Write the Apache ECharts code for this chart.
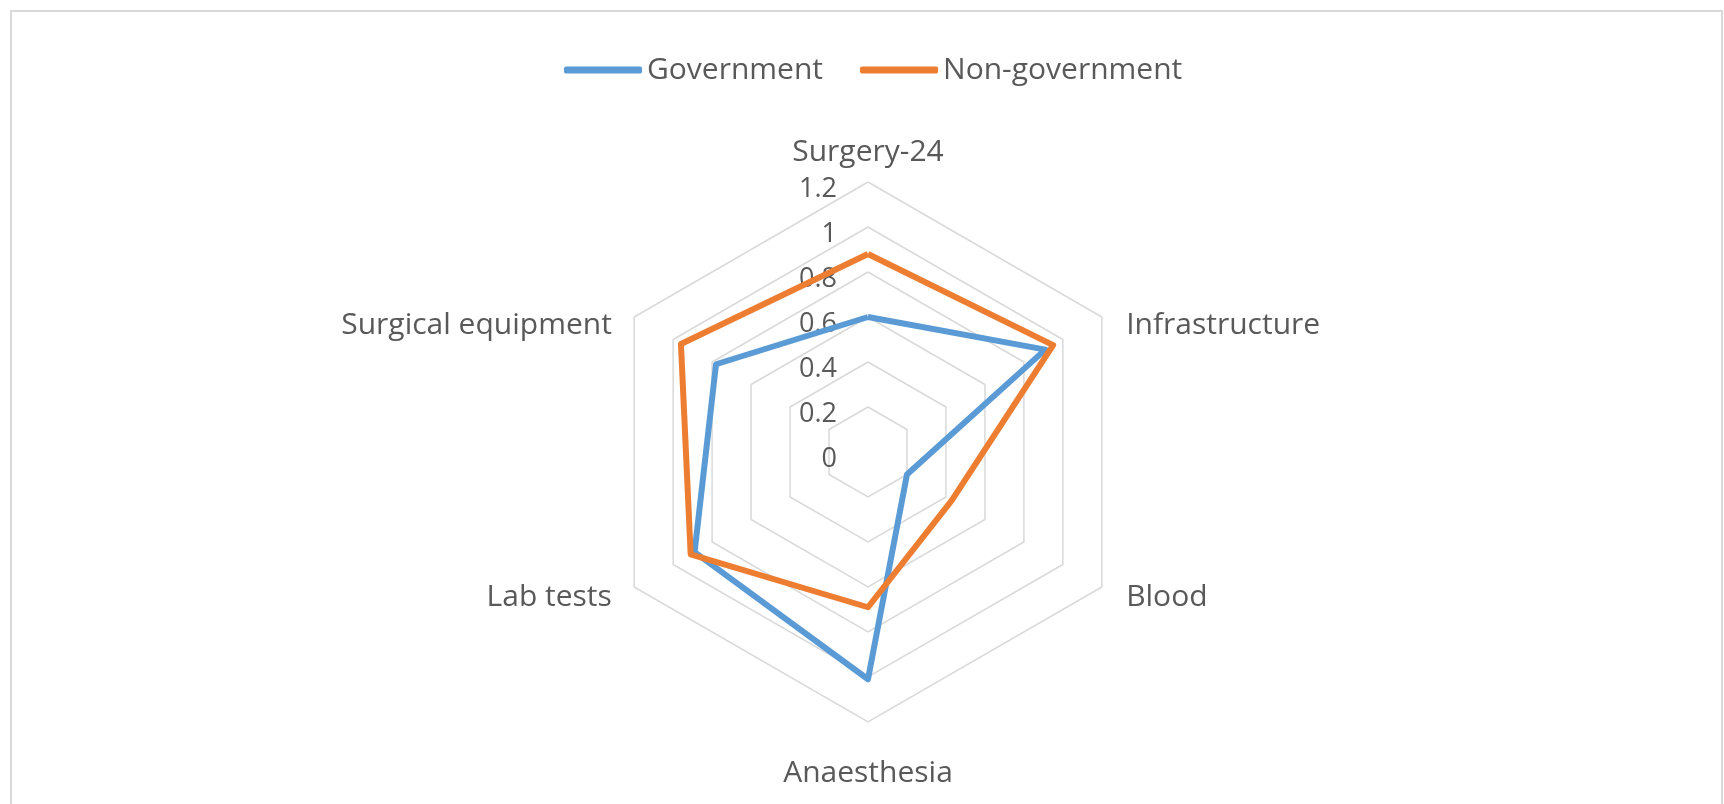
<!DOCTYPE html>
<html>
<head>
<meta charset="utf-8">
<title>Radar</title>
<script src="https://cdn.jsdelivr.net/npm/echarts@6/dist/echarts.min.js"></script>
<style>
  html, body { margin: 0; padding: 0; background: #fff; }
  #main { width: 1724px; height: 804px; }
</style>
</head>
<body>
<div id="main"></div>
<script>
// categories clockwise from the top, as in the original chart
const categories = ['Surgery-24', 'Infrastructure', 'Blood', 'Anaesthesia', 'Lab tests', 'Surgical equipment'];
const government = [0.60, 0.91, 0.20, 1.01, 0.89, 0.78];
const nonGovernment = [0.88, 0.95, 0.43, 0.69, 0.91, 0.96];
const seriesNames = ['Government', 'Non-government'];
const axisMax = 1.2;
const axisSplits = 6;

// echarts lays indicators out counter-clockwise, so flip the tail
const ccw = arr => [arr[0]].concat(arr.slice(1).reverse());

// which rich style each category name gets (label placement tweaks)
const nameStyle = {
  'Surgery-24': 'top',
  'Infrastructure': 'upR',
  'Blood': 'lowR',
  'Anaesthesia': 'bottom',
  'Lab tests': 'lowL',
  'Surgical equipment': 'upL'
};

const chart = echarts.init(document.getElementById('main'));
const textColor = '#595959';
const font = '"Open Sans", sans-serif';
const fs = 30;

const indicators = ccw(categories).map((name, i) => {
  const ind = { name: name, min: 0, max: axisMax };
  // only the first (top) axis carries the tick labels
  if (i === 0) {
    ind.axisLabel = { show: true };
  }
  return ind;
});

const option = {
  animation: false,
  color: ['#5B9BD5', '#ED7D31'],
  graphic: [{
    type: 'rect',
    shape: { x: 11, y: 11, width: 1711, height: 820 },
    style: { fill: 'none', stroke: '#d9d9d9', lineWidth: 2 },
    silent: true
  }],
  legend: {
    left: 559,
    top: 50,
    icon: 'roundRect',
    itemWidth: 78,
    itemHeight: 7,
    itemGap: 37,
    textStyle: { color: textColor, fontSize: fs, fontFamily: font },
    data: seriesNames
  },
  radar: {
    center: [868, 452],
    radius: 270,
    startAngle: 90,
    splitNumber: axisSplits,
    shape: 'polygon',
    nameGap: 20,
    axisName: {
      color: textColor,
      fontSize: fs,
      fontFamily: font,
      formatter: name => '{' + nameStyle[name] + '|' + name + '}',
      rich: {
        top: { fontSize: fs, fontFamily: font, color: textColor, lineHeight: 19 },
        upR: { fontSize: fs, fontFamily: font, color: textColor, padding: [36, 0, 0, 7] },
        lowR: { fontSize: fs, fontFamily: font, color: textColor, padding: [0, 0, 0, 7] },
        bottom: { fontSize: fs, fontFamily: font, color: textColor, padding: [16, 0, 0, 0] },
        lowL: { fontSize: fs, fontFamily: font, color: textColor, padding: [0, 5, 0, 0] },
        upL: { fontSize: fs, fontFamily: font, color: textColor, padding: [36, 5, 0, 0] }
      }
    },
    axisLine: { show: false },
    axisTick: { show: false },
    axisLabel: {
      show: false,
      color: textColor,
      fontSize: 27,
      fontFamily: font,
      margin: 31,
      verticalAlign: 'top',
      lineHeight: 14,
      formatter: v => String(Math.round(v * 10) / 10)
    },
    splitLine: { lineStyle: { color: '#d9d9d9', width: 1.5 } },
    splitArea: { show: false },
    indicator: indicators
  },
  series: [{
    type: 'radar',
    symbol: 'none',
    lineStyle: { width: 6 },
    data: [
      { name: seriesNames[0], value: ccw(government), lineStyle: { color: '#5B9BD5', width: 6 }, itemStyle: { color: '#5B9BD5' } },
      { name: seriesNames[1], value: ccw(nonGovernment), lineStyle: { color: '#ED7D31', width: 6 }, itemStyle: { color: '#ED7D31' } }
    ]
  }]
};

chart.setOption(option);
</script>
</body>
</html>
